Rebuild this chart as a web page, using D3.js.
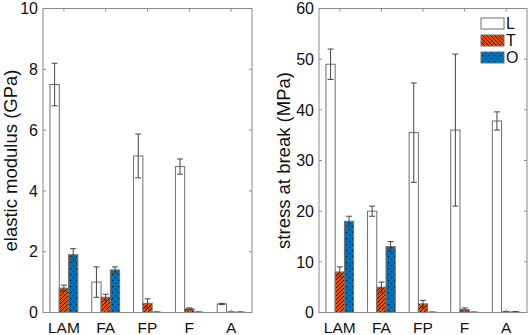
<!DOCTYPE html>
<html>
<head>
<meta charset="utf-8">
<script src="https://cdn.jsdelivr.net/npm/d3@7"></script>
<style>
  body { margin: 0; background: #fff; }
  svg { display: block; font-family: "Liberation Sans", Arial, sans-serif; }
</style>
</head>
<body>
<svg id="chart" width="529" height="335"></svg>
<script>
// --- data ---------------------------------------------------------------
const categories = ["LAM", "FA", "FP", "F", "A"];
const seriesNames = ["L", "T", "O"];

// elastic modulus (GPa)
const modulusL = [7.5, 1.0, 5.15, 4.8, 0.28];
const modulusT = [0.8, 0.5, 0.3, 0.12, 0.01];
const modulusO = [1.9, 1.4, 0.01, 0.01, 0.01];
const modulusErrL = [0.7, 0.5, 0.72, 0.25, 0.02];
const modulusErrT = [0.1, 0.1, 0.15, 0.03, 0.01];
const modulusErrO = [0.2, 0.1, 0.01, 0.01, 0.01];

// stress at break (MPa)
const stressL = [49, 20, 35.5, 36, 37.8];
const stressT = [8, 5, 1.7, 0.6, 0.1];
const stressO = [18, 13, 0.05, 0.05, 0.1];
const stressErrL = [3, 1, 9.8, 15, 1.8];
const stressErrT = [1, 1, 0.7, 0.3, 0.1];
const stressErrO = [1, 1, 0.05, 0.05, 0.1];

const modulusTicks = [0, 2, 4, 6, 8, 10];
const stressTicks = [0, 10, 20, 30, 40, 50, 60];
// ------------------------------------------------------------------------

const svg = d3.select("#chart");
const axisColor = "#8a8a8a";
const edgeColor = "#6e6e6e";

// patterns: hatch for T, dots for O
const defs = svg.append("defs");
const hatch = defs.append("pattern")
    .attr("id", "hatch").attr("patternUnits", "userSpaceOnUse")
    .attr("width", 4).attr("height", 4);
hatch.append("rect").attr("width", 4).attr("height", 4).attr("fill", "#D95319");
hatch.append("path").attr("d", "M-1,1 l2,-2 M0,4 l4,-4 M3,5 l2,-2")
    .attr("stroke", "#111").attr("stroke-width", 1);

const hatchLeg = defs.append("pattern")
    .attr("id", "hatchLeg").attr("patternUnits", "userSpaceOnUse")
    .attr("width", 4).attr("height", 4);
hatchLeg.append("rect").attr("width", 4).attr("height", 4).attr("fill", "#D95319");
hatchLeg.append("path").attr("d", "M-1,3 l2,2 M0,0 l4,4 M3,-1 l2,2")
    .attr("stroke", "#111").attr("stroke-width", 1);

const dots = defs.append("pattern")
    .attr("id", "dots").attr("patternUnits", "userSpaceOnUse")
    .attr("width", 6).attr("height", 6);
dots.append("rect").attr("width", 6).attr("height", 6).attr("fill", "#0072BD");
dots.append("rect").attr("x", 1).attr("y", 1).attr("width", 1.2).attr("height", 1.2).attr("fill", "#111");
dots.append("rect").attr("x", 4).attr("y", 4).attr("width", 1.2).attr("height", 1.2).attr("fill", "#111");

const fills = { L: "#ffffff", T: "url(#hatch)", O: "url(#dots)" };

function drawPanel(opts) {
  const { x0, x1, yTop, yBot, ymax, ticks, label, series, errors } = opts;

  const x = d3.scaleLinear().domain([0.5, 5.5]).range([x0, x1]);
  const y = d3.scaleLinear().domain([0, ymax]).range([yBot, yTop]);
  const g = svg.append("g");

  // bars
  const off = [-0.222, 0, 0.222];
  const bw = x(1.222) - x(1);
  series.forEach((vals, si) => {
    vals.forEach((v, ci) => {
      const cx = x(ci + 1 + off[si]);
      g.append("rect")
        .attr("x", cx - bw / 2).attr("width", bw)
        .attr("y", y(v)).attr("height", y(0) - y(v))
        .attr("fill", fills[seriesNames[si]])
        .attr("stroke", edgeColor).attr("stroke-width", 1);
    });
  });

  // error bars
  series.forEach((vals, si) => {
    vals.forEach((v, ci) => {
      const cx = x(ci + 1 + off[si]);
      const e = errors[si][ci];
      const hi = y(v + e), lo = y(Math.max(0, v - e));
      g.append("line").attr("x1", cx).attr("x2", cx).attr("y1", hi).attr("y2", lo)
        .attr("stroke", "#444").attr("stroke-width", 1);
      [hi, lo].forEach(yy => {
        g.append("line").attr("x1", cx - 3).attr("x2", cx + 3).attr("y1", yy).attr("y2", yy)
          .attr("stroke", "#444").attr("stroke-width", 1);
      });
    });
  });

  // axes box
  g.append("rect").attr("x", x0).attr("y", yTop)
    .attr("width", x1 - x0).attr("height", yBot - yTop)
    .attr("fill", "none").attr("stroke", axisColor).attr("stroke-width", 1);

  // y ticks (inside, both sides)
  ticks.forEach(t => {
    const yy = y(t);
    g.append("line").attr("x1", x0).attr("x2", x0 + 3).attr("y1", yy).attr("y2", yy)
      .attr("stroke", axisColor);
    g.append("line").attr("x1", x1).attr("x2", x1 - 3).attr("y1", yy).attr("y2", yy)
      .attr("stroke", axisColor);
    g.append("text").attr("x", x0 - 5).attr("y", yy).attr("dy", "0.36em")
      .attr("text-anchor", "end").attr("font-size", 16).attr("fill", "#111")
      .text(t);
  });

  // x ticks (inside, top and bottom)
  categories.forEach((c, i) => {
    const xx = x(i + 1);
    g.append("line").attr("x1", xx).attr("x2", xx).attr("y1", yBot).attr("y2", yBot - 3)
      .attr("stroke", axisColor);
    g.append("line").attr("x1", xx).attr("x2", xx).attr("y1", yTop).attr("y2", yTop + 3)
      .attr("stroke", axisColor);
    g.append("text").attr("x", xx).attr("y", yBot + 20.5)
      .attr("text-anchor", "middle").attr("font-size", 15.5).attr("fill", "#111")
      .text(c);
  });

  // y label
  g.append("text")
    .attr("transform", `translate(${opts.labelX},${(yTop + yBot) / 2}) rotate(-90)`)
    .attr("text-anchor", "middle").attr("font-size", 18.5).attr("fill", "#111")
    .text(label);

  return { x, y };
}

drawPanel({
  x0: 43, x1: 252, yTop: 8.5, yBot: 312.5, ymax: 10,
  ticks: modulusTicks, label: "elastic modulus (GPa)", labelX: 17,
  series: [modulusL, modulusT, modulusO],
  errors: [modulusErrL, modulusErrT, modulusErrO]
});

drawPanel({
  x0: 319, x1: 527, yTop: 8.5, yBot: 312.5, ymax: 60,
  ticks: stressTicks, label: "stress at break (MPa)", labelX: 290,
  series: [stressL, stressT, stressO],
  errors: [stressErrL, stressErrT, stressErrO]
});

// legend
const legFills = { L: "#ffffff", T: "url(#hatchLeg)", O: "url(#dots)" };
const leg = svg.append("g").attr("transform", "translate(481,18)");
seriesNames.forEach((s, i) => {
  leg.append("rect").attr("x", 0).attr("y", i * 17).attr("width", 23).attr("height", 11)
    .attr("fill", legFills[s]).attr("stroke", edgeColor);
  leg.append("text").attr("x", 25).attr("y", i * 17 + 5.5).attr("dy", "0.36em")
    .attr("font-size", 16).attr("fill", "#111").text(s);
});
</script>
</body>
</html>
